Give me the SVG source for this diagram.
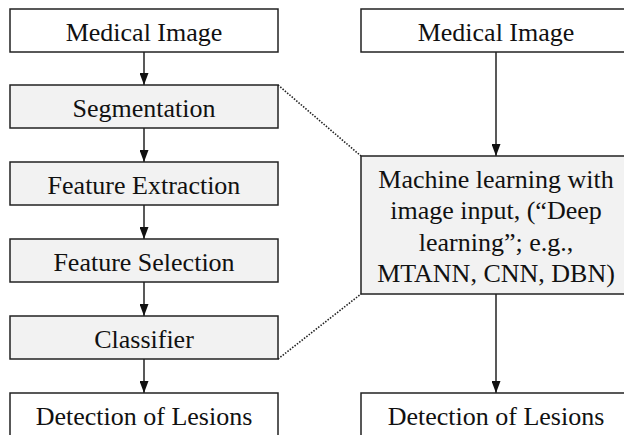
<svg xmlns="http://www.w3.org/2000/svg" width="624" height="435" viewBox="0 0 624 435">
<defs>
<style>
.box{fill:#ffffff;stroke:#222;stroke-width:1.5}
.gbox{fill:#f2f2f2;stroke:#222;stroke-width:1.5}
text{font-family:"Liberation Serif","Times New Roman",serif;font-size:26px;fill:#111;text-anchor:middle}
.conn{stroke:#222;stroke-width:1.5;fill:none}
.dot{stroke:#222;stroke-width:1.6;stroke-dasharray:1.5 1.5;fill:none}
</style>
<marker id="arr" markerWidth="12" markerHeight="9" refX="12" refY="4.5" orient="auto" markerUnits="userSpaceOnUse">
<path d="M0,0 L12,4.5 L0,9 Z" fill="#111"/>
</marker>
</defs>
<g id="connectors">
<line class="conn" x1="144" y1="52" x2="144" y2="85" marker-end="url(#arr)"/>
<line class="conn" x1="144" y1="128" x2="144" y2="162" marker-end="url(#arr)"/>
<line class="conn" x1="144" y1="205" x2="144" y2="239" marker-end="url(#arr)"/>
<line class="conn" x1="144" y1="282" x2="144" y2="316" marker-end="url(#arr)"/>
<line class="conn" x1="144" y1="359" x2="144" y2="393" marker-end="url(#arr)"/>
<line class="conn" x1="496" y1="52" x2="496" y2="156" marker-end="url(#arr)"/>
<line class="conn" x1="496" y1="294" x2="496" y2="393" marker-end="url(#arr)"/>
<line class="dot" x1="278" y1="85" x2="361" y2="156"/>
<line class="dot" x1="278" y1="359" x2="361" y2="294"/>
</g>
<g id="left-medical-image">
<rect class="box" x="10" y="9" width="268" height="43"/>
<text x="144" y="41">Medical Image</text>
</g>
<g id="segmentation">
<rect class="gbox" x="10" y="85" width="268" height="43"/>
<text x="144" y="117">Segmentation</text>
</g>
<g id="feature-extraction">
<rect class="gbox" x="10" y="162" width="268" height="43"/>
<text x="144" y="194">Feature Extraction</text>
</g>
<g id="feature-selection">
<rect class="gbox" x="10" y="239" width="268" height="43"/>
<text x="144" y="271">Feature Selection</text>
</g>
<g id="classifier">
<rect class="gbox" x="10" y="316" width="268" height="43"/>
<text x="144" y="348">Classifier</text>
</g>
<g id="left-detection">
<rect class="box" x="10" y="393" width="268" height="50"/>
<text x="144" y="425">Detection of Lesions</text>
</g>
<g id="right-medical-image">
<rect class="box" x="361" y="9" width="270" height="43"/>
<text x="496" y="41">Medical Image</text>
</g>
<g id="machine-learning">
<rect class="gbox" x="361" y="156" width="270" height="138"/>
<text x="496" y="188">Machine learning with</text>
<text x="496" y="219">image input, (“Deep</text>
<text x="496" y="251">learning”; e.g.,</text>
<text x="496" y="282">MTANN, CNN, DBN)</text>
</g>
<g id="right-detection">
<rect class="box" x="361" y="393" width="270" height="50"/>
<text x="496" y="425">Detection of Lesions</text>
</g>
</svg>
